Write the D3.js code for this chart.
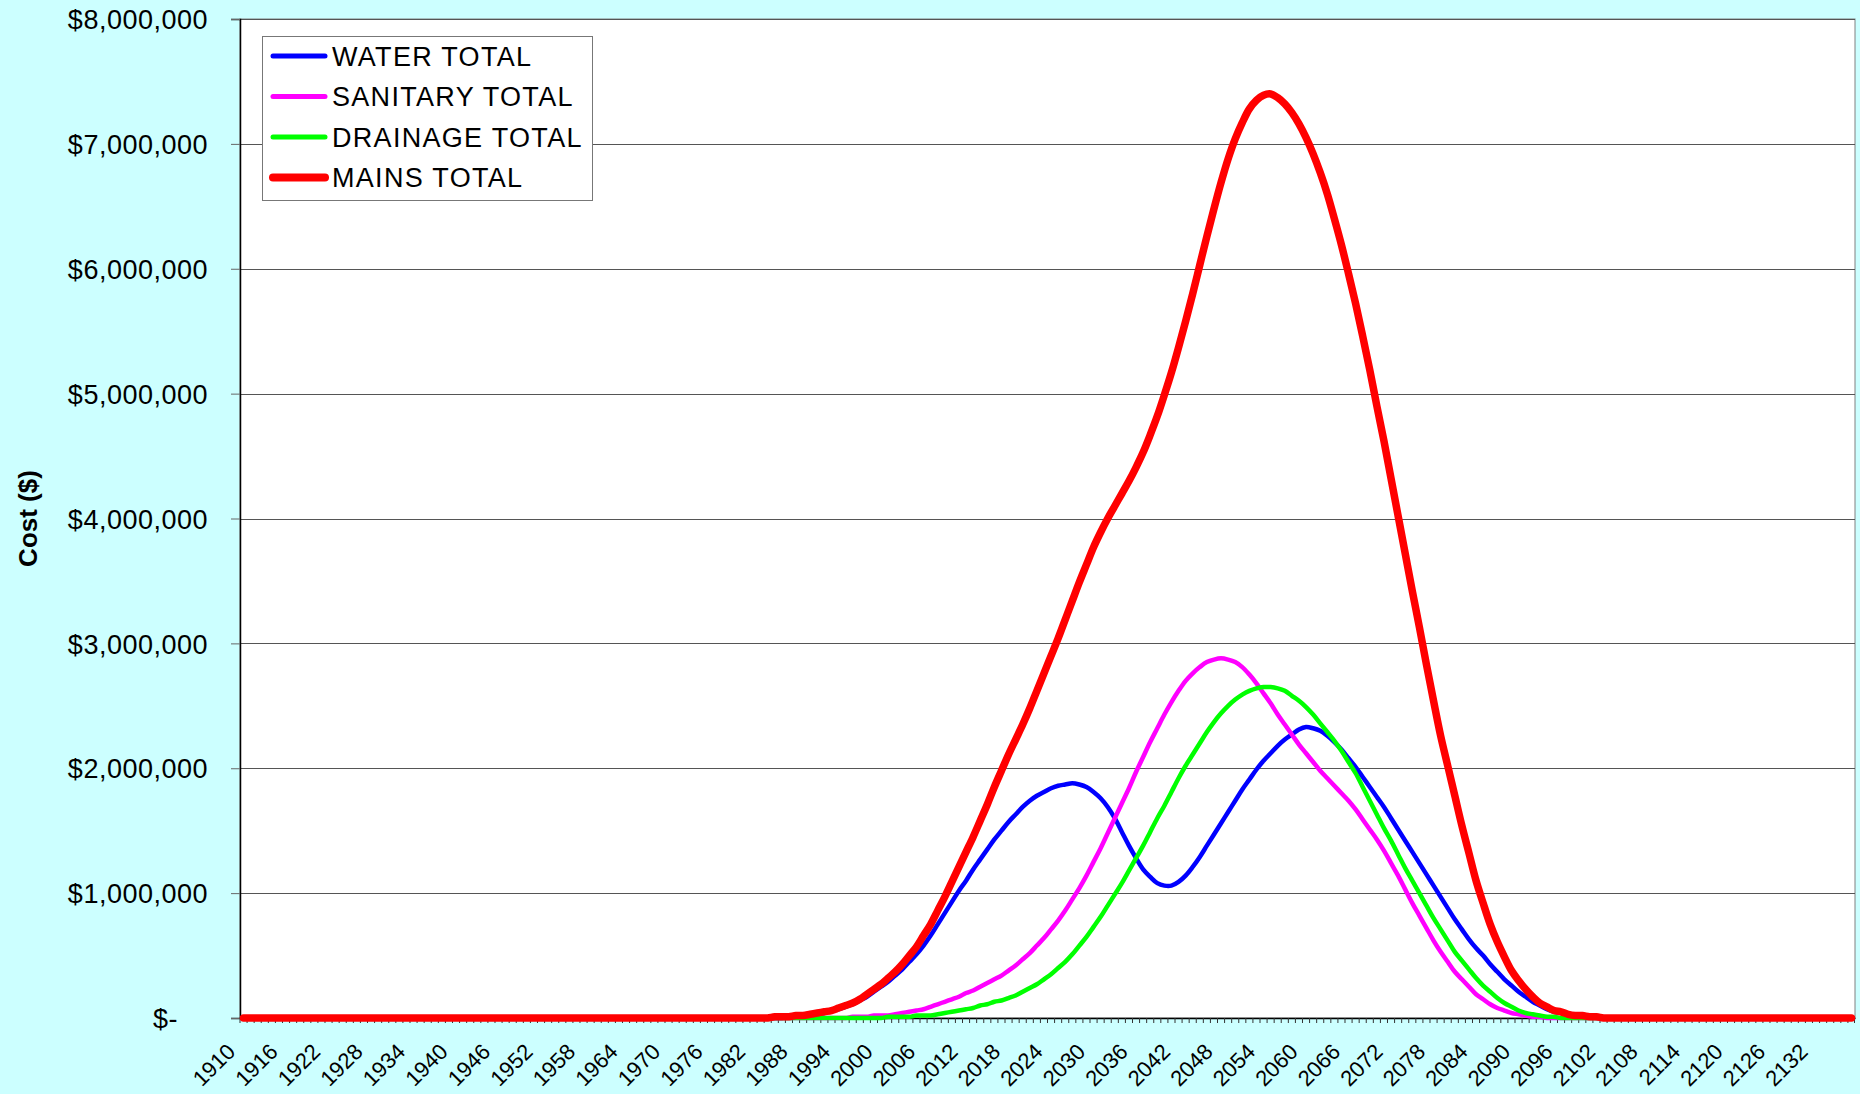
<!DOCTYPE html>
<html>
<head>
<meta charset="utf-8">
<script src="https://cdn.jsdelivr.net/npm/d3@7"></script>
<style>
  body { margin: 0; background: #ccffff; }
  svg { display: block; font-family: "Liberation Sans", Arial, sans-serif; }
</style>
</head>
<body>
<div id="chart"></div>
<script>
// Cost per year, in $ millions, one value per year from 1910 to 2137 (one row per decade)
var firstYear = 1910, lastYear = 2137;
var years = d3.range(firstYear, lastYear + 1);

var water = [
  0,0,0,0,0,0,0,0,0,0,                                         // 1910
  0,0,0,0,0,0,0,0,0,0,                                         // 1920
  0,0,0,0,0,0,0,0,0,0,                                         // 1930
  0,0,0,0,0,0,0,0,0,0,                                         // 1940
  0,0,0,0,0,0,0,0,0,0,                                         // 1950
  0,0,0,0,0,0,0,0,0,0,                                         // 1960
  0,0,0,0,0,0,0,0,0,0,                                         // 1970
  0,0,0,0,0,0,0,0.01,0.01,0.02,                                // 1980
  0.02,0.03,0.04,0.06,0.07,0.09,0.11,0.14,0.17,0.21,           // 1990
  0.25,0.29,0.34,0.39,0.45,0.51,0.58,0.66,0.75,0.84,           // 2000
  0.93,1.02,1.10,1.19,1.27,1.35,1.43,1.50,1.57,1.63,           // 2010
  1.69,1.74,1.78,1.81,1.84,1.86,1.87,1.88,1.87,1.85,           // 2020
  1.81,1.76,1.69,1.60,1.49,1.38,1.28,1.19,1.13,1.08,           // 2030
  1.06,1.06,1.09,1.14,1.21,1.29,1.38,1.47,1.56,1.65,           // 2040
  1.74,1.83,1.91,1.99,2.06,2.12,2.18,2.23,2.27,2.31,           // 2050
  2.33,2.32,2.30,2.26,2.21,2.15,2.08,2.01,1.93,1.85,           // 2060
  1.77,1.69,1.60,1.51,1.42,1.33,1.24,1.15,1.06,0.97,           // 2070
  0.88,0.79,0.71,0.63,0.56,0.50,0.43,0.37,0.31,0.26,           // 2080
  0.21,0.17,0.13,0.10,0.07,0.05,0.04,0.03,0.02,0.01,           // 2090
  0.01,0,0,0,0,0,0,0,0,0,                                      // 2100
  0,0,0,0,0,0,0,0,0,0,                                         // 2110
  0,0,0,0,0,0,0,0,0,0,                                         // 2120
  0,0,0,0,0,0,0,0                                              // 2130
];

var sanitary = [
  0,0,0,0,0,0,0,0,0,0,
  0,0,0,0,0,0,0,0,0,0,
  0,0,0,0,0,0,0,0,0,0,
  0,0,0,0,0,0,0,0,0,0,
  0,0,0,0,0,0,0,0,0,0,
  0,0,0,0,0,0,0,0,0,0,
  0,0,0,0,0,0,0,0,0,0,
  0,0,0,0,0,0,0,0,0,0,                                         // 1980
  0,0,0,0,0,0,0.01,0.01,0.01,0.02,                             // 1990
  0.02,0.02,0.03,0.04,0.05,0.06,0.07,0.09,0.11,0.13,           // 2000
  0.15,0.17,0.20,0.22,0.25,0.28,0.31,0.34,0.38,0.42,           // 2010
  0.47,0.52,0.58,0.64,0.71,0.78,0.86,0.95,1.04,1.14,           // 2020
  1.25,1.36,1.48,1.60,1.72,1.84,1.97,2.09,2.21,2.32,           // 2030
  2.43,2.53,2.62,2.70,2.76,2.81,2.85,2.87,2.88,2.87,           // 2040
  2.85,2.81,2.75,2.68,2.60,2.52,2.43,2.35,2.27,2.19,           // 2050
  2.12,2.05,1.98,1.92,1.86,1.80,1.74,1.67,1.59,1.51,           // 2060
  1.43,1.34,1.24,1.14,1.03,0.92,0.82,0.72,0.62,0.53,           // 2070
  0.45,0.37,0.31,0.25,0.19,0.15,0.11,0.08,0.06,0.04,           // 2080
  0.03,0.02,0.01,0.01,0,0,0,0,0,0,                             // 2090
  0,0,0,0,0,0,0,0,0,0,
  0,0,0,0,0,0,0,0,0,0,
  0,0,0,0,0,0,0,0,0,0,
  0,0,0,0,0,0,0,0
];

var drainage = [
  0,0,0,0,0,0,0,0,0,0,
  0,0,0,0,0,0,0,0,0,0,
  0,0,0,0,0,0,0,0,0,0,
  0,0,0,0,0,0,0,0,0,0,
  0,0,0,0,0,0,0,0,0,0,
  0,0,0,0,0,0,0,0,0,0,
  0,0,0,0,0,0,0,0,0,0,
  0,0,0,0,0,0,0,0,0,0,                                         // 1980
  0,0,0,0,0,0,0,0,0,0,                                         // 1990
  0,0.01,0.01,0.01,0.01,0.02,0.02,0.02,0.03,0.04,              // 2000
  0.05,0.06,0.07,0.08,0.10,0.11,0.13,0.14,0.16,0.18,           // 2010
  0.21,0.24,0.27,0.31,0.35,0.40,0.45,0.51,0.58,0.65,           // 2020
  0.73,0.81,0.90,0.99,1.08,1.18,1.28,1.38,1.49,1.60,           // 2030
  1.70,1.81,1.92,2.02,2.11,2.20,2.29,2.37,2.44,2.50,           // 2040
  2.55,2.59,2.62,2.64,2.65,2.65,2.64,2.62,2.58,2.54,           // 2050
  2.49,2.43,2.36,2.29,2.22,2.14,2.05,1.96,1.85,1.74,           // 2060
  1.63,1.52,1.42,1.31,1.20,1.10,1.00,0.90,0.80,0.71,           // 2070
  0.62,0.53,0.46,0.39,0.32,0.26,0.21,0.16,0.12,0.09,           // 2080
  0.06,0.04,0.03,0.02,0.01,0.01,0,0,0,0,                       // 2090
  0,0,0,0,0,0,0,0,0,0,
  0,0,0,0,0,0,0,0,0,0,
  0,0,0,0,0,0,0,0,0,0,
  0,0,0,0,0,0,0,0
];

var mains = [
  0,0,0,0,0,0,0,0,0,0,
  0,0,0,0,0,0,0,0,0,0,
  0,0,0,0,0,0,0,0,0,0,
  0,0,0,0,0,0,0,0,0,0,
  0,0,0,0,0,0,0,0,0,0,
  0,0,0,0,0,0,0,0,0,0,
  0,0,0,0,0,0,0,0,0,0,
  0,0,0,0,0,0.01,0.01,0.01,0.02,0.02,                          // 1980
  0.03,0.04,0.05,0.06,0.08,0.10,0.12,0.15,0.19,0.23,           // 1990
  0.27,0.32,0.37,0.43,0.50,0.57,0.66,0.75,0.86,0.97,           // 2000
  1.09,1.21,1.33,1.45,1.58,1.71,1.85,1.98,2.11,2.23,           // 2010
  2.35,2.48,2.62,2.76,2.90,3.04,3.19,3.34,3.49,3.63,           // 2020
  3.77,3.89,4.00,4.10,4.20,4.30,4.41,4.53,4.67,4.82,           // 2030
  4.99,5.17,5.37,5.58,5.80,6.03,6.26,6.48,6.69,6.88,           // 2040
  7.04,7.17,7.28,7.35,7.39,7.40,7.37,7.32,7.25,7.16,           // 2050
  7.05,6.92,6.77,6.60,6.40,6.19,5.96,5.72,5.46,5.19,           // 2060
  4.90,4.62,4.32,4.02,3.72,3.42,3.13,2.83,2.54,2.26,           // 2070
  2.02,1.78,1.54,1.32,1.10,0.92,0.75,0.61,0.49,0.38,           // 2080
  0.30,0.23,0.17,0.12,0.09,0.06,0.05,0.03,0.02,0.02,           // 2090
  0.01,0.01,0,0,0,0,0,0,0,0,                                   // 2100
  0,0,0,0,0,0,0,0,0,0,
  0,0,0,0,0,0,0,0,0,0,
  0,0,0,0,0,0,0,0
];

var seriesNames  = ["WATER TOTAL", "SANITARY TOTAL", "DRAINAGE TOTAL", "MAINS TOTAL"];
var seriesValues = [water, sanitary, drainage, mains];
var seriesColors = ["#0000ff", "#ff00ff", "#00ff00", "#ff0000"];
var seriesWidths = [4.5, 4.5, 4.5, 7.5];

var yTicks = [0, 1e6, 2e6, 3e6, 4e6, 5e6, 6e6, 7e6, 8e6];
var labelStep = 6;   // a year label every 6 years
var yTitle = "Cost ($)";

var width = 1860, height = 1094;
var margin = { top: 19, right: 5, bottom: 76, left: 240 };
var innerW = width - margin.left - margin.right;
var innerH = height - margin.top - margin.bottom;

var svg = d3.select("#chart").append("svg")
    .attr("width", width)
    .attr("height", height);

svg.append("rect")
    .attr("width", width)
    .attr("height", height)
    .style("fill", "#ccffff");

var g = svg.append("g")
    .attr("transform", "translate(" + margin.left + "," + margin.top + ")");

var x = d3.scaleBand()
    .domain(years)
    .range([0, innerW]);
var bw = x.bandwidth();

var y = d3.scaleLinear()
    .domain([0, 8e6])
    .range([innerH, 0]);

// plot area
g.append("rect")
    .attr("width", innerW)
    .attr("height", innerH)
    .style("fill", "#ffffff")
    .style("stroke", "#808080")
    .style("stroke-width", 1);

// gridlines
g.append("g")
  .selectAll("line")
    .data(yTicks.filter(function(d) { return d > 0; }))
  .enter().append("line")
    .attr("x1", 0)
    .attr("x2", innerW)
    .attr("y1", function(d) { return Math.round(y(d)) + 0.5; })
    .attr("y2", function(d) { return Math.round(y(d)) + 0.5; })
    .style("stroke", "#555555")
    .style("stroke-width", 1.2);

// y axis
var yAxis = g.append("g")
    .call(d3.axisLeft(y)
      .tickValues(yTicks)
      .tickSize(9)
      .tickPadding(23)
      .tickFormat(function(d) { return d === 0 ? "$-" : d3.format("$,")(d); }));

yAxis.select(".domain")
    .style("stroke", "#000000")
    .style("stroke-width", 1.5);
yAxis.selectAll(".tick line")
    .style("stroke", "#666666");
yAxis.selectAll(".tick text")
    .style("font-size", "27px")
    .style("letter-spacing", "0.5px")
    .style("fill", "#000000")
    .attr("dy", "0.36em");
yAxis.selectAll(".tick text")
    .filter(function(d) { return d === 0; })
    .attr("x", -62);

// x axis: ticks between the years, a label every few years
var xAxis = g.append("g")
    .attr("transform", "translate(0," + innerH + ")")
    .call(d3.axisBottom(x)
      .tickSize(5)
      .tickSizeOuter(0)
      .tickFormat(function(d) { return (d - firstYear) % labelStep === 0 ? d : ""; }));

xAxis.select(".domain")
    .style("stroke", "#000000")
    .style("stroke-width", 1.5);
xAxis.selectAll(".tick line")
    .attr("x1", -bw / 2)
    .attr("x2", -bw / 2)
    .style("stroke", "#333333");
xAxis.selectAll(".tick text")
    .attr("y", 0)
    .attr("dy", 0)
    .attr("transform", "translate(-7,35) rotate(-45)")
    .style("text-anchor", "end")
    .style("font-size", "22px")
    .style("fill", "#000000");
xAxis.append("line")
    .attr("x1", innerW - 0.5)
    .attr("x2", innerW - 0.5)
    .attr("y1", 0)
    .attr("y2", 5)
    .style("stroke", "#333333");

// y title
svg.append("text")
    .attr("transform", "translate(37," + (margin.top + innerH / 2) + ") rotate(-90)")
    .style("text-anchor", "middle")
    .style("font-size", "26px")
    .style("font-weight", "bold")
    .text(yTitle);

// lines
var line = d3.line()
    .x(function(d, i) { return x(years[i]) + bw / 2; })
    .y(function(d) { return y(d * 1e6); })
    .curve(d3.curveCatmullRom.alpha(0.5));

g.selectAll(".series")
    .data(seriesValues)
  .enter().append("path")
    .attr("class", "series")
    .attr("d", line)
    .style("fill", "none")
    .style("stroke", function(d, i) { return seriesColors[i]; })
    .style("stroke-width", function(d, i) { return seriesWidths[i]; })
    .style("stroke-linejoin", "round")
    .style("stroke-linecap", "round");

// legend
var legend = svg.append("g")
    .attr("transform", "translate(262,36)");

legend.append("rect")
    .attr("x", 0.5)
    .attr("y", 0.5)
    .attr("width", 330)
    .attr("height", 164)
    .style("fill", "#ffffff")
    .style("stroke", "#777777")
    .style("stroke-width", 1);

var legendItem = legend.selectAll(".item")
    .data(seriesNames)
  .enter().append("g")
    .attr("class", "item")
    .attr("transform", function(d, i) { return "translate(0," + (20 + i * 40.5) + ")"; });

legendItem.append("line")
    .attr("x1", 11)
    .attr("x2", 63)
    .style("stroke", function(d, i) { return seriesColors[i]; })
    .style("stroke-width", function(d, i) { return seriesWidths[i] + 0.5; })
    .style("stroke-linecap", "round");

legendItem.append("text")
    .attr("x", 70)
    .attr("dy", "0.36em")
    .style("font-size", "27px")
    .style("letter-spacing", "1.3px")
    .text(function(d) { return d; });
</script>
</body>
</html>
